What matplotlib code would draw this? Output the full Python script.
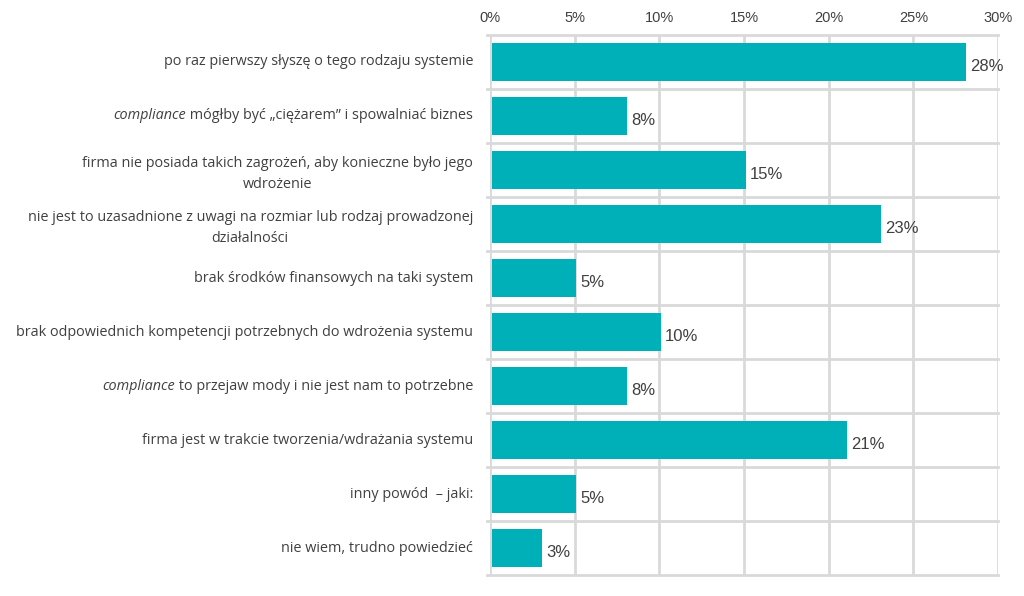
import matplotlib
matplotlib.use("Agg")
import matplotlib.pyplot as plt
import numpy as np

italic_parts = ["", "compliance", "", "", "", "", "compliance", "", "", ""]
label_parts = [
    "po raz pierwszy słyszę o tego rodzaju systemie",
    " mógłby być „ciężarem” i spowalniać biznes",
    "firma nie posiada takich zagrożeń, aby konieczne było jego\nwdrożenie",
    "nie jest to uzasadnione z uwagi na rozmiar lub rodzaj prowadzonej\ndziałalności",
    "brak środków finansowych na taki system",
    "brak odpowiednich kompetencji potrzebnych do wdrożenia systemu",
    " to przejaw mody i nie jest nam to potrzebne",
    "firma jest w trakcie tworzenia/wdrażania systemu",
    "inny powód  – jaki:",
    "nie wiem, trudno powiedzieć",
]
values = [28, 8, 15, 23, 5, 10, 8, 21, 5, 3]
xticks = [0, 5, 10, 15, 20, 25, 30]

BAR = "#00b0b9"
GRID = "#d9d9d9"
TXT = "#404040"

fig = plt.figure(figsize=(10.24, 5.96), dpi=100)
ax = fig.add_axes([0.4785, 0.0352, 0.9746 - 0.4785, 0.9413 - 0.0352])

n = len(values)
y = np.arange(n)
ax.barh(y, values, height=0.7, color=BAR, zorder=3, left=0.1)
ax.set_xlim(0, 30)
ax.set_ylim(n - 0.5, -0.5)

ax.xaxis.tick_top()
ax.set_xticks(xticks)
ax.set_xticklabels([f"{t}%" for t in xticks], fontsize=10.5, color=TXT,
                   family="Liberation Sans")
ax.tick_params(axis="x", length=0, pad=7)
for t in xticks:
    ax.axvline(t, color=GRID, lw=2, zorder=1)
for b in np.arange(-0.5, n, 1.0):
    ax.plot([-0.2, 30], [b, b], color=GRID, lw=2, zorder=1, clip_on=False)
for s in ax.spines.values():
    s.set_visible(False)
ax.set_yticks([])

for yi, v in zip(y, values):
    ax.text(v + 0.35, yi + 0.08, f"{v}%", va="center", ha="left",
            fontsize=12, color=TXT, family="Liberation Sans")

fig.canvas.draw()
renderer = fig.canvas.get_renderer()
xlab = 473 / 1024
for yi, it, lab in zip(y, italic_parts, label_parts):
    ypix = ax.transData.transform((0, yi))[1]
    yf = ypix / fig.bbox.height
    nl = "\n" in lab
    t = fig.text(xlab, yf - (0.007 if nl else 0), lab, ha="right", va="center",
                 fontsize=10.4, color=TXT, family="Open Sans",
                 multialignment="center", linespacing=1.55)
    if it:
        bb = t.get_window_extent(renderer)
        fig.text(bb.x0 / fig.bbox.width, yf, it, ha="right", va="center",
                 fontsize=10.4, color=TXT, family="Open Sans", style="italic")

fig.savefig("out.png", dpi=100)
